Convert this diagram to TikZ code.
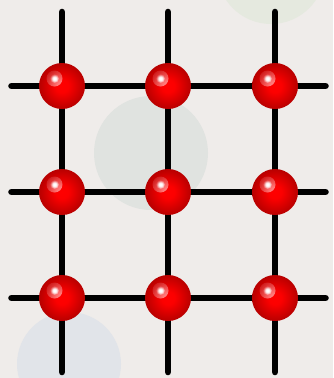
\documentclass[tikz,border=0pt]{standalone}
\usetikzlibrary{fadings,backgrounds}
\definecolor{bg}{HTML}{EFECEA}
\definecolor{cmid}{HTML}{E0E3E0}
\definecolor{ctop}{HTML}{E5E9DF}
\definecolor{cbot}{HTML}{E1E4E9}
\definecolor{redhi}{HTML}{FF0000}
\definecolor{redlo}{HTML}{B80000}
\pgfdeclareradialshading{redbody}{\pgfpoint{0bp}{0bp}}{color(0bp)=(redhi); color(7bp)=(redhi!96!redlo); color(25bp)=(redlo); color(50bp)=(redlo)}
\pgfdeclareradialshading{specshade}{\pgfpoint{0bp}{0bp}}{color(0bp)=(white); color(9bp)=(white); color(25bp)=(black); color(50bp)=(black)}
\pgfdeclarefading{specplat}{\pgfuseshading{specshade}}
\tikzfading[name=specfade, inner color=transparent!0, outer color=transparent!100]
\tikzset{
  ball/.style={circle, minimum size=46pt, inner sep=0pt, shading=redbody,
    path picture={
      \fill[white, opacity=0.6, path fading=specfade] ([shift={(-7.5,-7.5)}]path picture bounding box.center) circle (8pt);
      \fill[white, path fading=specplat] ([shift={(-7.5,-7.5)}]path picture bounding box.center) circle (4.5pt);
    }},
  gridline/.style={line width=6.6pt, line cap=round, black}
}
\begin{document}
\begin{tikzpicture}[x=1pt, y=-1pt]
\useasboundingbox (0,0) rectangle (333,378);
% balls
\foreach \c/\x in {1/62,2/168,3/275}{
  \foreach \r/\y in {1/86,2/192,3/298}{
    \node[ball] (b\r\c) at (\x,\y) {};
  }
  \coordinate (t\c) at (\x,12);
  \coordinate (u\c) at (\x,372);
}
\foreach \r/\y in {1/86,2/192,3/298}{
  \coordinate (l\r) at (11.5,\y);
  \coordinate (r\r) at (325.5,\y);
}
\begin{scope}[on background layer]
  \fill[bg] (0,0) rectangle (333,378);
  \begin{scope}
    \clip (0,0) rectangle (333,378);
    \fill[ctop] (271,-30) circle (54);
    \fill[cmid] (151,153) circle (57);
    \fill[cbot] (69,364) circle (52);
  \end{scope}
  \foreach \c in {1,2,3}{
    \draw[gridline] (t\c) -- (b1\c.center) -- (b2\c.center) -- (b3\c.center) -- (u\c);
  }
  \foreach \r in {1,2,3}{
    \draw[gridline] (l\r) -- (b\r1.center) -- (b\r2.center) -- (b\r3.center) -- (r\r);
  }
\end{scope}
\end{tikzpicture}
\end{document}
